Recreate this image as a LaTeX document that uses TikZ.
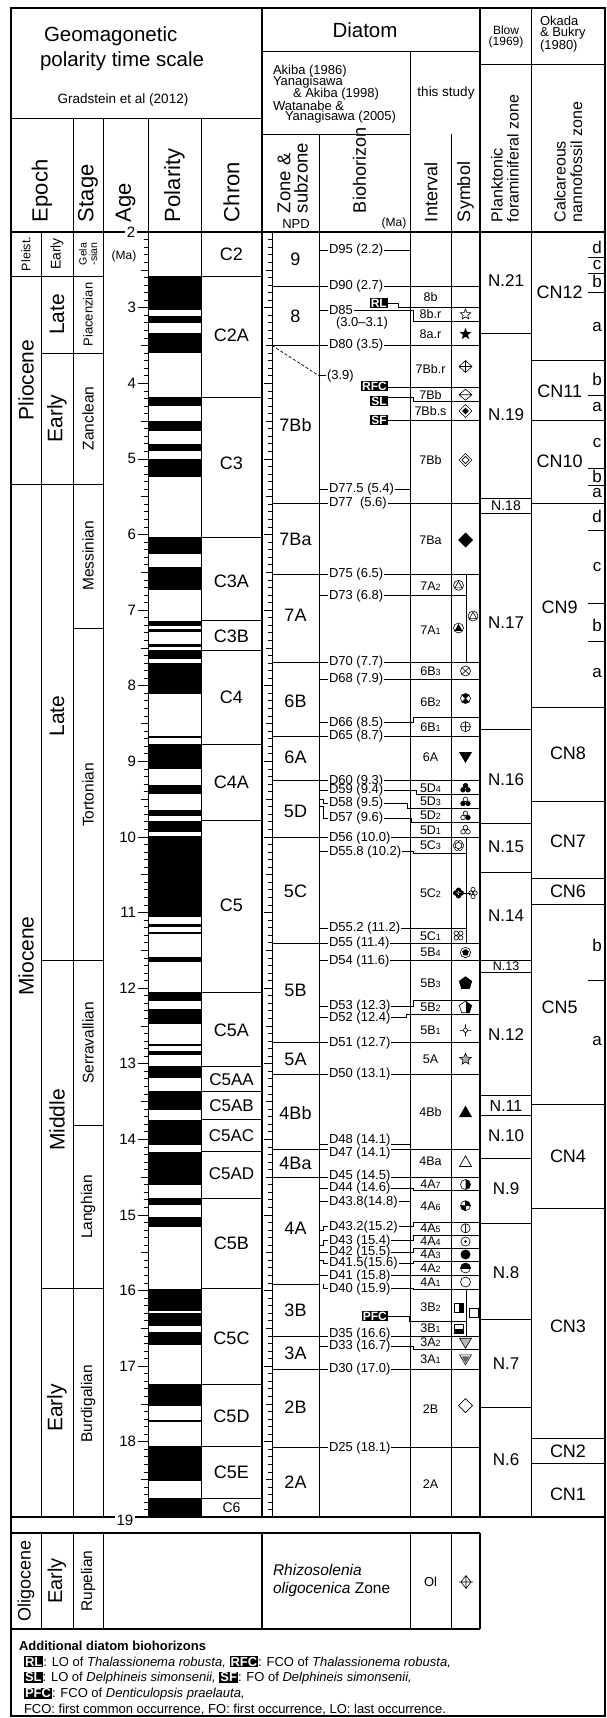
\documentclass[tikz,border=0pt]{standalone}
\usepackage{fontspec}
\setmainfont{Liberation Sans}
\usetikzlibrary{shapes.geometric}
\newcommand\myfs[1]{\fontsize{#1}{#1}\selectfont}
\newcommand\sbd[1]{{\myfs{9}#1}}
\newcommand\lbx[1]{{\setlength\fboxsep{1pt}\colorbox{black}{\textcolor{white}{\bfseries #1}}}}
\begin{document}
\begin{tikzpicture}[x=1pt,y=-1pt,
  every node/.style={inner sep=0pt,outer sep=0pt},
  ln/.style={line width=0.7pt},
  tkl/.style={line width=1.5pt},
  sl/.style={line width=0.6pt},
  bl/.style={anchor=west,fill=white,inner xsep=1pt,inner ysep=0.2pt,font=\myfs{13}},
  iv/.style={font=\myfs{12.5}},
  zl/.style={font=\myfs{18}},
  chl/.style={font=\myfs{18}},
  bw/.style={font=\myfs{17}},
  cn/.style={font=\myfs{18}},
  sz/.style={font=\myfs{17}},
  blk/.style={fill=black,text=white,font=\myfs{12}\bfseries,inner xsep=1.2pt,inner ysep=0.8pt},
  hdr/.style={rotate=90,anchor=west,font=\myfs{22}},
  ep/.style={rotate=90,font=\myfs{21}},
  st/.style={rotate=90,font=\myfs{15.5}},
  syStarO/.pic={\node[star,star points=5,star point ratio=2.3,draw,line width=0.6pt,fill=white,minimum size=11pt]{};},
  syStarB/.pic={\node[star,star points=5,star point ratio=2.4,fill=black,minimum size=12.5pt]{};},
  syStarG/.pic={\node[star,star points=5,star point ratio=2.2,draw,line width=0.6pt,fill=gray!65,minimum size=12pt]{};},
  syDiaCross/.pic={\draw[sl] (-6.5,0)--(0,-6)--(6.5,0)--(0,6)--cycle (-6.5,0)--(6.5,0) (0,-6)--(0,6);},
  syDiaBar/.pic={\draw[sl] (-6.5,0)--(0,-5.5)--(6.5,0)--(0,5.5)--cycle (-6.5,0)--(6.5,0);},
  syDiaDot/.pic={\draw[sl] (-6.5,0)--(0,-6.5)--(6.5,0)--(0,6.5)--cycle; \fill (-3.4,0)--(0,-3.4)--(3.4,0)--(0,3.4)--cycle;},
  syDiaDouble/.pic={\draw[sl] (-6.5,0)--(0,-6.5)--(6.5,0)--(0,6.5)--cycle (-3.6,0)--(0,-3.6)--(3.6,0)--(0,3.6)--cycle;},
  syDiaBlack/.pic={\fill (-7.5,0)--(0,-7.5)--(7.5,0)--(0,7.5)--cycle;},
  syDiaO/.pic={\draw[line width=0.7pt] (-7,0)--(0,-7)--(7,0)--(0,7)--cycle;},
  syDiaPlus/.pic={\draw[sl] (-5,0)--(0,-6.5)--(5,0)--(0,6.5)--cycle (-7,0)--(7,0) (0,-6.5)--(0,6.5);},
  syCircTriO/.pic={\draw[sl] (0,0) circle[radius=5]; \draw[sl] (0,-4)--(3.5,2.6)--(-3.5,2.6)--cycle;},
  syCircTriB/.pic={\draw[sl] (0,0) circle[radius=5]; \fill (0,-4.2)--(3.8,2.8)--(-3.8,2.8)--cycle;},
  syCircX/.pic={\draw[sl] (0,0) circle[radius=5] (-3.5,-3.5)--(3.5,3.5) (-3.5,3.5)--(3.5,-3.5);},
  syCircXf/.pic={\fill (0,0)--(-3.5,-3.5)--(0,-5)--(3.5,-3.5)--cycle; \fill (0,0)--(-3.5,3.5)--(0,5)--(3.5,3.5)--cycle; \draw[sl] (0,0) circle[radius=5] (-3.5,-3.5)--(3.5,3.5) (-3.5,3.5)--(3.5,-3.5);},
  syCircPlus/.pic={\draw[sl] (0,0) circle[radius=5] (-5,0)--(5,0) (0,-5)--(0,5);},
  syTriDownB/.pic={\fill (-6.5,-5)--(6.5,-5)--(0,6)--cycle;},
  syTriUpB/.pic={\fill (-6.5,5)--(6.5,5)--(0,-6.5)--cycle;},
  syTriUpO/.pic={\draw[line width=0.7pt] (-6,4.5)--(6,4.5)--(0,-6)--cycle;},
  syTriDownG/.pic={\draw[sl,fill=gray!55] (-6,-4.5)--(6,-4.5)--(0,5.5)--cycle;},
  syTriDownG2/.pic={\draw[sl] (-6,-4.5)--(6,-4.5)--(0,5.5)--cycle; \fill[gray!75!black] (-4,-3)--(4,-3)--(0,3.6)--cycle;},
  syPentB/.pic={\node[regular polygon,regular polygon sides=5,fill=black,minimum size=14pt]{};},
  syPentHalf/.pic={\node[regular polygon,regular polygon sides=5,draw,line width=0.6pt,minimum size=13pt]{}; \begin{scope}\clip (0.6,-8) rectangle (8,8); \node[regular polygon,regular polygon sides=5,fill=black,minimum size=13pt]{};\end{scope}},
  syPentDot/.pic={\draw[sl] (0,0) circle[radius=5.2]; \node[regular polygon,regular polygon sides=5,fill=black,minimum size=7pt]{};},
  syCompass/.pic={\draw[sl] (-2.6,0)--(0,-2.6)--(2.6,0)--(0,2.6)--cycle (-6,0)--(-2.6,0) (2.6,0)--(6,0) (0,-6)--(0,-2.6) (0,2.6)--(0,6);},
  syCircHalfR/.pic={\begin{scope}\clip (0,-6) rectangle (6,6); \fill (0,0) circle[radius=5];\end{scope} \draw[sl] (0,0) circle[radius=5];},
  syCircQuad/.pic={\begin{scope}\clip (0,-6) rectangle (6,0) (-6,0) rectangle (0,6); \fill (0,0) circle[radius=5];\end{scope} \draw[sl] (0,0) circle[radius=5] (-5,0)--(5,0) (0,-5)--(0,5);},
  syCircVbar/.pic={\draw[sl] (0,0) circle[radius=4.6] (0,-4.6)--(0,4.6);},
  syCircDot/.pic={\draw[sl] (0,0) circle[radius=4.6]; \fill (0,0) circle[radius=1.4];},
  syCircB/.pic={\fill (0,0) circle[radius=5];},
  syCircTopB/.pic={\begin{scope}\clip (-6,-6) rectangle (6,0); \fill (0,0) circle[radius=5];\end{scope} \draw[sl] (0,0) circle[radius=5];},
  syCircO/.pic={\draw[sl] (0,0) circle[radius=5];},
  sySqHalf/.pic={\draw[sl] (-4.5,-4.5) rectangle (4.5,4.5); \fill (0.3,-4.5) rectangle (4.5,4.5);},
  sySqO/.pic={\draw[sl] (-4.5,-4.5) rectangle (4.5,4.5);},
  sySqBot/.pic={\draw[sl] (-4.5,-4.5) rectangle (4.5,4.5); \fill (-4.5,0) rectangle (4.5,4.5);},
  syFlower/.pic={\foreach \an in {0,60,...,300} {\draw[sl,fill=white] ({3.3*cos(\an)},{3.3*sin(\an)}) circle[radius=2.1];} \draw[sl,fill=white] (0,0) circle[radius=3.2];},
  syQuatB/.pic={\fill (-2.8,0) circle[radius=2.7] (2.8,0) circle[radius=2.7] (0,-2.8) circle[radius=2.7] (0,2.8) circle[radius=2.7] (-2,-2) rectangle (2,2);},
  syQuatO/.pic={\draw[sl] (0,-3.6) circle[radius=2.1] (0,3.6) circle[radius=2.1] (-2.2,0) circle[radius=2.1] (2.2,0) circle[radius=2.1];},
  syQuat4/.pic={\draw[sl] (-2.3,-2.3) circle[radius=2.2] (2.3,-2.3) circle[radius=2.2] (-2.3,2.3) circle[radius=2.2] (2.3,2.3) circle[radius=2.2];}
]
\useasboundingbox (0,0) rectangle (606,1718);
\fill[white] (0,0) rectangle (606,1718);

% ---------- polarity ----------
\foreach \a/\b in {2.581/3.032,3.116/3.207,3.330/3.596,4.187/4.300,4.493/4.631,4.799/4.896,4.997/5.235,6.033/6.252,6.436/6.733,7.140/7.212,7.251/7.285,7.454/7.489,7.528/7.642,7.695/8.108,8.66/8.69,8.771/9.105,9.311/9.426,9.647/9.721,9.786/9.937,9.984/11.056,11.146/11.188,11.263/11.290,11.592/11.657,12.049/12.174,12.272/12.474,12.735/12.770,12.829/12.887,13.032/13.183,13.363/13.608,13.739/14.070,14.163/14.609,14.775/14.870,15.032/15.160,15.974/16.268,16.303/16.472,16.543/16.721,17.235/17.533,17.717/17.740,18.056/18.524,18.748/19.0}
  \fill (148,{80.9+75.6*\a}) rectangle (201,{80.9+75.6*\b});

% ---------- ticks ----------
\foreach \i in {1,...,169} {
  \pgfmathsetmacro\yy{232.1+7.56*\i}
  \pgfmathtruncatemacro\m{mod(\i,10)}
  \pgfmathtruncatemacro\h{mod(\i,5)}
  \ifnum\m=0 \def\L{10}\else\ifnum\h=0 \def\L{7}\else\def\L{4.5}\fi\fi
  \draw[ln] ({148-\L},\yy) -- (148,\yy);
  \draw[ln] ({272-0.8*\L},\yy) -- (272,\yy);
}
\foreach \n in {3,...,18} \node[anchor=east,font=\myfs{15}] at (136,{80.9+75.6*\n}) {\n};

% ---------- frame ----------
\draw[tkl] (11,8) rectangle (605,1716);
\draw[tkl] (11,232) -- (605,232);
\draw[tkl] (11,1517) -- (605,1517);
\draw[tkl] (262,8) -- (262,1517);
\draw[tkl] (480,8) -- (480,1517);
\draw[ln] (531,8) -- (531,1517);
\draw[ln] (11,118) -- (262,118);
\draw[ln] (262,51) -- (480,51);
\draw[ln] (262,134) -- (410,134);
\draw[ln] (410,51) -- (410,1517);
\draw[ln] (480,64) -- (605,64);
\foreach \xx in {73,103,148,201} \draw[ln] (\xx,118) -- (\xx,1517);
\draw[ln] (41,232) -- (41,1517);
\draw[ln] (272,232) -- (272,1517);
\draw[ln] (319,134) -- (319,1517);
\draw[ln] (451,134) -- (451,1517);

\node[fill=white,inner xsep=2pt,font=\myfs{15}] at (131,232) {2};
\node[font=\myfs{12}] at (124,256) {(Ma)};
\node[fill=white,inner xsep=2pt,font=\myfs{15}] at (125,1520) {19};

% ---------- header ----------
\node[anchor=west,font=\myfs{20.5}] at (44,36) {Geomagonetic};
\node[anchor=west,font=\myfs{20.5}] at (40,61) {polarity time scale};
\node[font=\myfs{13.5}] at (123,100) {Gradstein et al (2012)};
\node[font=\myfs{20.5}] at (365,30) {Diatom};
\node[anchor=west,font=\myfs{13}] at (273,71) {Akiba (1986)};
\node[anchor=west,font=\myfs{13}] at (273,82.5) {Yanagisawa};
\node[anchor=west,font=\myfs{13}] at (293,94) {\& Akiba (1998)};
\node[anchor=west,font=\myfs{13}] at (273,105.5) {Watanabe \&};
\node[anchor=west,font=\myfs{13}] at (285,117) {Yanagisawa (2005)};
\node[font=\myfs{13.5}] at (446,93) {this study};
\node[font=\myfs{12}] at (506,30) {Blow};
\node[font=\myfs{12}] at (506,42.5) {(1969)};
\node[anchor=west,font=\myfs{13}] at (540,21) {Okada};
\node[anchor=west,font=\myfs{13}] at (540,33.5) {\& Bukry};
\node[anchor=west,font=\myfs{13}] at (540,46) {(1980)};
\node[hdr] at (42,222) {Epoch};
\node[hdr] at (88,222) {Stage};
\node[hdr] at (125.5,222) {Age};
\node[hdr] at (174.5,222) {Polarity};
\node[hdr] at (231.5,222) {Chron};
\node[hdr,font=\myfs{18.5}] at (284,213) {Zone \&};
\node[hdr,font=\myfs{18.5}] at (301,213) {subzone};
\node[font=\myfs{13}] at (296,224) {NPD};
\node[hdr,font=\myfs{18}] at (359.5,213) {Biohorizon};
\node[font=\myfs{12}] at (394,223) {(Ma)};
\node[hdr,font=\myfs{18}] at (431,222) {Interval};
\node[hdr,font=\myfs{18}] at (465.5,222) {Symbol};
\node[hdr,font=\myfs{16}] at (497,222) {Planktonic};
\node[hdr,font=\myfs{16}] at (513,222) {foraminiferal zone};
\node[hdr,font=\myfs{16}] at (560,222) {Calcareous};
\node[hdr,font=\myfs{16}] at (576.5,222) {nannofossil zone};

% ---------- epochs / stages ----------
\draw[ln] (11,276)--(103,276);
\draw[ln] (41,353)--(103,353);
\draw[ln] (11,484)--(103,484);
\draw[ln] (73,628.5)--(103,628.5);
\draw[ln] (41,960)--(103,960);
\draw[ln] (73,1125.7)--(103,1125.7);
\draw[ln] (41,1288.5)--(103,1288.5);
\node[rotate=90,font=\myfs{12.5}] at (26,254) {Pleist.};
\node[rotate=90,font=\myfs{14}] at (57,254) {Early};
\node[rotate=90,font=\myfs{10.5},align=center] at (88,254) {Gela\\-sian};
\node[ep] at (26,380) {Pliocene};
\node[ep] at (57,314.5) {Late};
\node[ep] at (57,418.5) {Early};
\node[rotate=90,font=\myfs{13}] at (88,314.5) {Piacenzian};
\node[st] at (88,418.5) {Zanclean};
\node[ep] at (26,956) {Miocene};
\node[ep] at (57,716) {Late};
\node[ep] at (57,1120) {Middle};
\node[ep] at (57,1408) {Early};
\node[st] at (88,556) {Messinian};
\node[st] at (88,795) {Tortonian};
\node[st] at (88,1043) {Serravallian};
\node[st] at (88,1207) {Langhian};
\node[st] at (88,1404) {Burdigalian};

% ---------- chrons ----------
\foreach \yy in {276,397.4,537,620.7,650,744,820.7,992,1066.1,1091.2,1119.6,1151.6,1197.9,1288.5,1383.9,1446,1498.3}
  \draw[ln] (201,\yy)--(262,\yy);
\foreach \yy/\t in {254/C2,335/C2A,463/C3,581.7/C3A,636/C3B,697/C4,782/C4A,905/C5,1030/C5A,1243/C5B,1338/C5C,1416.7/C5D,1472/C5E}
  \node[chl] at (231.5,\yy) {\t};
\foreach \yy/\t in {1080/C5AA,1105.5/C5AB,1135.7/C5AC,1174/C5AD}
  \node[font=\myfs{17}] at (231.5,\yy) {\t};
\node[font=\myfs{14}] at (231.5,1508) {C6};

% ---------- diatom zones ----------
\foreach \yy in {286,345.5,503,574,662.3,736.5,780.7,837.7,943,1042.7,1074,1149.3,1177.3,1284,1336,1369.3,1447.7}
  \draw[ln] (272,\yy)--(319,\yy);
\foreach \yy/\t in {259/9,316/8,425/7Bb,539/7Ba,615/7A,701.7/6B,757/6A,811.7/5D,891.7/5C,990/5B,1059/5A,1113/4Bb,1163/4Ba,1228/4A,1310.7/3B,1353/3A,1406.7/2B,1482/2A}
  \node[zl] at (295.5,\yy) {\t};
\draw[ln,densely dashed] (272,345.5)--(319,375.7);

% ---------- biohorizon lines ----------
\draw[ln] (319,250)--(410,250);
\draw[ln] (319,286)--(480,286);
\draw[ln] (319,310)--(413,310)--(413,321.7)--(480,321.7);
\draw[ln] (388,303.3)--(398,303.3)--(398,307.7)--(480,307.7);
\draw[ln] (319,345.5)--(480,345.5);
\draw[ln] (319,375.7)--(326,375.7);
\draw[ln] (388,387.7)--(480,387.7);
\draw[ln] (388,397.3)--(413,397.3)--(413,401.7)--(480,401.7);
\draw[ln] (388,420)--(480,420);
\draw[ln] (319,489.3)--(410,489.3);
\draw[ln] (319,503)--(480,503);
\draw[ln] (319,574)--(480,574);
\draw[ln] (319,595.7)--(466,595.7);
\draw[ln] (319,662.3)--(480,662.3);
\draw[ln] (319,679)--(480,679);
\draw[ln] (319,722.7)--(413,722.7)--(413,717.3)--(480,717.3);
\draw[ln] (319,736.5)--(480,736.5);
\draw[ln] (319,780.7)--(480,780.7);
\draw[ln] (319,790.5)--(416,790.5)--(416,794)--(480,794);
\draw[ln] (319,799)--(323,799)--(323,803.3)--(407,803.3)--(407,808.3)--(480,808.3);
\draw[ln] (319,806.7)--(323,806.7)--(323,818.3)--(411,818.3)--(411,822.7)--(480,822.7);
\draw[ln] (319,837.7)--(480,837.7);
\draw[ln] (319,851.7)--(413,851.7)--(413,853.3)--(466,853.3);
\draw[ln] (319,928.3)--(466,928.3);
\draw[ln] (319,943)--(480,943);
\draw[ln] (319,960.7)--(480,960.7);
\draw[ln] (319,1006)--(413,1006)--(413,1000.7)--(480,1000.7);
\draw[ln] (319,1017)--(406,1017)--(406,1014)--(480,1014);
\draw[ln] (319,1042.7)--(480,1042.7);
\draw[ln] (319,1074)--(480,1074);
\draw[ln] (319,1144)--(410,1144);
\draw[ln] (319,1149.3)--(480,1149.3);
\draw[ln] (319,1177.3)--(480,1177.3);
\draw[ln] (319,1188.3)--(413,1188.3)--(413,1190.7)--(480,1190.7);
\draw[ln] (319,1201.7)--(410,1201.7);
\draw[ln] (319,1230)--(323,1230)--(323,1226.7)--(413,1226.7)--(413,1222)--(480,1222);
\draw[ln] (319,1245.1)--(323,1245.1)--(323,1240.7)--(413,1240.7)--(413,1235)--(480,1235);
\draw[ln] (319,1252.3)--(413,1252.3)--(413,1248)--(480,1248);
\draw[ln] (319,1260.3)--(323,1260.3)--(323,1263.3)--(413,1263.3)--(413,1261.5)--(480,1261.5);
\draw[ln] (319,1275.5)--(480,1275.5);
\draw[ln] (323,1284)--(323,1288.7)--(413,1288.7)--(413,1289.3)--(480,1289.3);
\draw[ln] (388,1316)--(409,1316)--(409,1321.7)--(466,1321.7);
\draw[ln] (319,1336)--(480,1336);
\draw[ln] (319,1346)--(413,1346)--(413,1349)--(480,1349);
\draw[ln] (319,1369.3)--(480,1369.3);
\draw[ln] (319,1447.7)--(480,1447.7);
% symbol column splits
\draw[ln] (466,574)--(466,662.3);
\draw[ln] (466,837.7)--(466,943);
\draw[ln] (466,1289.3)--(466,1336);

% ---------- biohorizon labels ----------
\node[bl] at (328,250) {D95 (2.2)};
\node[bl] at (328,286) {D90 (2.7)};
\node[bl] at (328,310) {D85};
\node[anchor=west,font=\myfs{13}] at (336,323.5) {(3.0–3.1)};
\node[bl] at (328,345.5) {D80 (3.5)};
\node[bl] at (326,375.7) {(3.9)};
\node[bl] at (328,489.3) {D77.5 (5.4)};
\node[bl] at (328,503) {D77\ \ (5.6)};
\node[bl] at (328,574) {D75 (6.5)};
\node[bl] at (328,595.7) {D73 (6.8)};
\node[bl] at (328,662.3) {D70 (7.7)};
\node[bl] at (328,679) {D68 (7.9)};
\node[bl] at (328,722.7) {D66 (8.5)};
\node[bl] at (328,736.5) {D65 (8.7)};
\node[bl] at (328,780.7) {D60 (9.3)};
\node[bl] at (328,790.5) {D59 (9.4)};
\node[bl] at (328,803.3) {D58 (9.5)};
\node[bl] at (328,818.3) {D57 (9.6)};
\node[bl] at (328,837.7) {D56 (10.0)};
\node[bl] at (328,851.7) {D55.8 (10.2)};
\node[bl] at (328,928.3) {D55.2 (11.2)};
\node[bl] at (328,943) {D55 (11.4)};
\node[bl] at (328,960.7) {D54 (11.6)};
\node[bl] at (328,1006) {D53 (12.3)};
\node[bl] at (328,1018) {D52 (12.4)};
\node[bl] at (328,1042.7) {D51 (12.7)};
\node[bl] at (328,1074) {D50 (13.1)};
\node[bl] at (328,1140.5) {D48 (14.1)};
\node[bl] at (328,1152.7) {D47 (14.1)};
\node[bl] at (328,1176) {D45 (14.5)};
\node[bl] at (328,1188.3) {D44 (14.6)};
\node[bl] at (328,1201.7) {D43.8(14.8)};
\node[bl] at (328,1226.7) {D43.2(15.2)};
\node[bl] at (328,1240.7) {D43 (15.4)};
\node[bl] at (328,1252.3) {D42 (15.5)};
\node[bl] at (328,1263.3) {D41.5(15.6)};
\node[bl] at (328,1276) {D41 (15.8)};
\node[bl] at (328,1288.7) {D40 (15.9)};
\node[bl] at (328,1334) {D35 (16.6)};
\node[bl] at (328,1346) {D33 (16.7)};
\node[bl] at (328,1369.3) {D30 (17.0)};
\node[bl] at (328,1447.7) {D25 (18.1)};
\node[blk,anchor=east] at (388,303.3) {RL};
\node[blk,anchor=east] at (388,386) {RFC};
\node[blk,anchor=east] at (388,401.3) {SL};
\node[blk,anchor=east] at (388,420) {SF};
\node[blk,anchor=east] at (388,1316) {PFC};

% ---------- intervals ----------
\foreach \yy/\t in {297/8b,314.5/8b.r,334/8a.r,369.3/7Bb.r,395/7Bb,411.5/7Bb.s,460/7Bb,540/7Ba,586/7A\sbd{2},630/7A\sbd{1},670.7/6B\sbd{3},701.7/6B\sbd{2},727/6B\sbd{1},757/6A,788.3/5D\sbd{4},801.5/5D\sbd{3},815.7/5D\sbd{2},830/5D\sbd{1},845.5/5C\sbd{3},892.7/5C\sbd{2},936/5C\sbd{1},952.5/5B\sbd{4},983.3/5B\sbd{3},1007.5/5B\sbd{2},1030/5B\sbd{1},1059.3/5A,1111.7/4Bb,1161.7/4Ba,1184.5/4A\sbd{7},1206/4A\sbd{6},1228/4A\sbd{5},1241.5/4A\sbd{4},1254.5/4A\sbd{3},1268.3/4A\sbd{2},1282/4A\sbd{1},1307.3/3B\sbd{2},1328.5/3B\sbd{1},1342.5/3A\sbd{2},1359.3/3A\sbd{1},1409/2B,1484/2A}
  \node[iv] at (430.5,\yy) {\t};

% ---------- symbols ----------
\pic at (465.5,314.5) {syStarO};
\pic at (465.5,334) {syStarB};
\pic at (465.5,366.5) {syDiaCross};
\pic at (465.5,394.7) {syDiaBar};
\pic at (465.5,411) {syDiaDot};
\pic at (465.5,460) {syDiaDouble};
\pic at (465.5,540) {syDiaBlack};
\pic at (458.5,585.3) {syCircTriO};
\pic at (458.5,628) {syCircTriB};
\pic at (473,616) {syCircTriO};
\pic at (465.5,671) {syCircX};
\pic at (465.5,698.5) {syCircXf};
\pic at (465.5,726.7) {syCircPlus};
\pic at (465.5,757) {syTriDownB};
\foreach \yy/\fa/\fb/\fc in {788/black/black/black,801.7/white/black/black,815.7/white/white/black,830/white/white/white}{
  \draw[sl,fill=\fa] (465.5,{\yy-2.4}) circle[radius=2.3];
  \draw[sl,fill=\fb] (463,{\yy+1.8}) circle[radius=2.3];
  \draw[sl,fill=\fc] (468,{\yy+1.8}) circle[radius=2.3];
}
\pic at (458.5,845.5) {syFlower};
\draw[ln] (458.5,893)--(471,893);
\pic at (458.5,893) {syQuatB};
\pic at (473,893) {syQuatO};
\pic at (458.5,935.5) {syQuat4};
\pic at (465.5,952.5) {syPentDot};
\pic at (465.5,983.3) {syPentB};
\pic at (465.5,1007.5) {syPentHalf};
\pic at (465.5,1030.3) {syCompass};
\pic at (465.5,1059.3) {syStarG};
\pic at (465.5,1112) {syTriUpB};
\pic at (465.5,1162) {syTriUpO};
\pic at (465.5,1184.5) {syCircHalfR};
\pic at (465.5,1205.7) {syCircQuad};
\pic at (465.5,1228.3) {syCircVbar};
\pic at (465.5,1241.5) {syCircDot};
\pic at (465.5,1254.5) {syCircB};
\pic at (465.5,1268) {syCircTopB};
\pic at (465.5,1282) {syCircO};
\pic at (458.5,1307.3) {sySqHalf};
\pic at (473.5,1312.3) {sySqO};
\pic at (458.5,1329) {sySqBot};
\pic at (465.5,1342.7) {syTriDownG};
\pic at (465.5,1359.3) {syTriDownG2};
\pic at (465.5,1405.7) {syDiaO};

% ---------- Blow ----------
\foreach \yy in {333.3,498.3,513.3,729.3,823.3,872.3,960,972.7,1095,1115,1158.3,1223.3,1319.3,1407.3}
  \draw[ln] (480,\yy)--(531,\yy);
\foreach \yy/\t in {281/N.21,415/N.19,622.7/N.17,779.3/N.16,846.7/N.15,916/N.14,1035/N.12,1135.7/N.10,1188.3/N.9,1272.7/N.8,1363.3/N.7,1459.3/N.6}
  \node[bw] at (506,\yy) {\t};
\node[font=\myfs{14}] at (506,506) {N.18};
\node[font=\myfs{12.5}] at (506,966.5) {N.13};
\node[font=\myfs{16}] at (506,1105.5) {N.11};

% ---------- Okada ----------
\foreach \yy in {360,420.7,503.7,707.3,801,878.3,904,1104,1208.3,1438.3,1463.3}
  \draw[ln] (531,\yy)--(605,\yy);
\foreach \yy in {257,273,292,395,468.3,485,530,603.3,641.7,980}
  \draw[ln] (588,\yy)--(605,\yy);
\foreach \yy/\t in {292.3/CN12,391.7/CN11,461.7/CN10,607.3/CN9,1007.3/CN5}
  \node[cn] at (559.7,\yy) {\t};
\foreach \yy/\t in {753.3/CN8,841.7/CN7,891.7/CN6,1156.7/CN4,1326/CN3,1451/CN2,1494/CN1}
  \node[cn] at (568,\yy) {\t};
\foreach \yy/\t in {247/d,265/c,281/b,326.7/a,379.3/b,406.7/a,442.7/c,476.7/b,493.3/a,516.7/d,566.7/c,625/b,673.3/a,945/b,1040.7/a}
  \node[sz] at (597,\yy) {\t};

% ---------- Oligocene ----------
\draw[tkl] (11,1533)--(480,1533);
\draw[tkl] (11,1629)--(480,1629);
\draw[tkl] (480,1533)--(480,1629);
\draw[tkl] (262,1533)--(262,1629);
\foreach \xx in {41,73,103,410,451} \draw[ln] (\xx,1533)--(\xx,1629);
\node[rotate=90,font=\myfs{18}] at (26,1581) {Oligocene};
\node[rotate=90,font=\myfs{20}] at (57,1581) {Early};
\node[rotate=90,font=\myfs{15.5}] at (88,1581) {Rupelian};
\node[anchor=west,font=\myfs{15.5}] at (273,1570) {\itshape Rhizosolenia};
\node[anchor=west,font=\myfs{15.5}] at (273,1589) {\itshape oligocenica \upshape Zone};
\node[font=\myfs{13}] at (430.5,1582) {Ol};
\pic at (466,1582) {syDiaPlus};

% ---------- legend ----------
\node[anchor=west,font=\myfs{13}\bfseries] at (19,1646) {Additional diatom biohorizons};
\node[anchor=west,font=\myfs{13}] at (24,1662) {\lbx{RL}: LO of \textit{Thalassionema robusta,} \lbx{RFC}: FCO of \textit{Thalassionema robusta,}};
\node[anchor=west,font=\myfs{13}] at (24,1678) {\lbx{SL}: LO of \textit{Delphineis simonsenii,} \lbx{SF}: FO of \textit{Delphineis simonsenii,}};
\node[anchor=west,font=\myfs{13}] at (24,1694) {\lbx{PFC}: FCO of \textit{Denticulopsis praelauta,}};
\node[anchor=west,font=\myfs{13}] at (24,1710) {FCO: first common occurrence, FO: first occurrence, LO: last occurrence.};
\end{tikzpicture}
\end{document}
